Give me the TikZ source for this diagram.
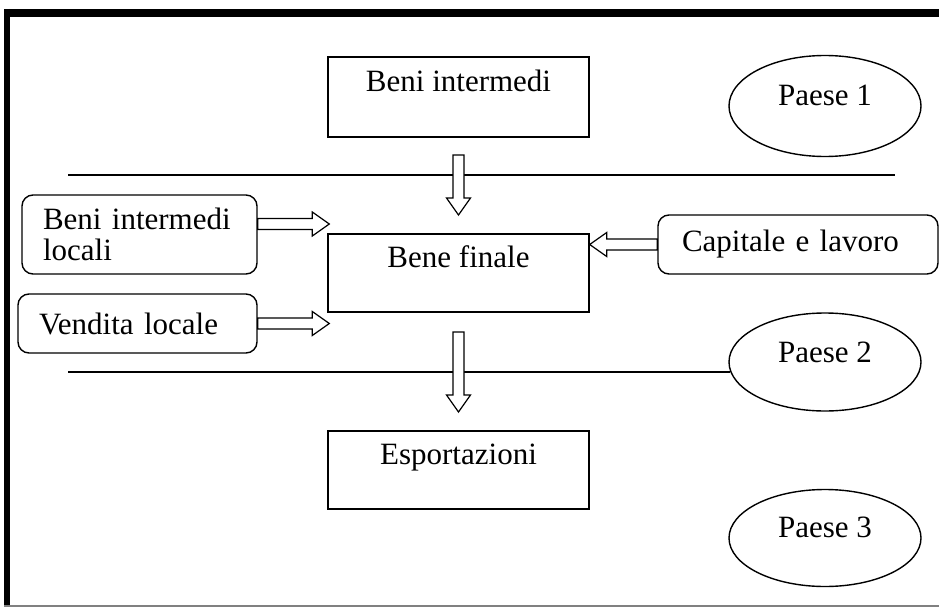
\documentclass[tikz,border=0pt]{standalone}
\usepackage{fontspec}
\setmainfont{Liberation Serif}
\usetikzlibrary{shapes.geometric,calc}
\tikzset{
  every node/.style={font=\fontsize{31}{31}\selectfont},
  rbox/.style={draw, line width=1.4pt, minimum width=261pt, minimum height=79pt, inner sep=0pt},
  roundbox/.style={draw, line width=1.4pt, rounded corners=11pt, align=left, inner xsep=21pt, inner ysep=0pt},
  country/.style={draw, ellipse, line width=1.4pt, minimum width=192pt, inner sep=0pt},
  sepline/.style={line width=1.4pt},
  harrow/.style={draw, line width=1.2pt, fill=white, line join=miter},
}
\newcommand{\hollowarrow}[2]{%
  \path ($(#2)!17pt!(#1)$) coordinate (hb);
  \draw[harrow] ($(#1)!5.5pt!90:(#2)$) -- ($(hb)!5.5pt!-90:(#1)$) -- ($(hb)!12pt!-90:(#1)$) -- (#2) -- ($(hb)!12pt!90:(#1)$) -- ($(hb)!5.5pt!90:(#1)$) -- ($(#1)!5.5pt!-90:(#2)$) -- cycle;
}
\begin{document}
\begin{tikzpicture}[x=1pt,y=-1pt]
\useasboundingbox (0,0) rectangle (939,607);
% frame
\draw[line width=8pt] (4,13) -- (939,13);
\draw[line width=6pt] (7,9) -- (7,607);
\draw[gray, line width=1.5pt] (4,606) -- (939,606);

% boxes
\node[rbox, minimum height=80pt, label={[anchor=base, yshift=-35pt]north:Beni intermedi}] (bi) at (458.5,97) {};
\node[rbox, minimum height=78pt, label={[anchor=base, yshift=-34pt]north:Bene finale}] (bf) at (458.5,273) {};
\node[rbox, minimum height=78pt, label={[anchor=base, yshift=-34pt]north:Esportazioni}] (ex) at (458.5,470) {};

\node[roundbox, text width=193pt, minimum height=79pt] (bil) at (139.5,234.5) {Beni intermedi\\locali};
\node[roundbox, text width=197pt, minimum height=59pt] (vl) at (137.5,323.5) {Vendita locale};
\node[roundbox, text width=232pt, inner xsep=24pt, minimum height=59pt] (cap) at (798,244.5) {Capitale e lavoro};

% countries
\node[country, minimum height=101pt, label={[yshift=11pt]center:Paese 1}] (p1) at (825,106) {};
\node[country, minimum height=98pt, label={[yshift=10pt]center:Paese 2}] (p2) at (825,362) {};
\node[country, minimum height=97pt, label={[yshift=11pt]center:Paese 3}] (p3) at (825,538) {};

% separator lines
\coordinate (l1s) at (68,175);
\coordinate (l1e) at (895,175);
\draw[sepline] (l1s) -- (l1e);
\draw[sepline] (p2.186 -| l1s) -- (p2.186);

% arrows
\coordinate (a1s) at (458.5,155);
\coordinate (a1e) at (458.5,215);
\coordinate (a2s) at (458.5,332);
\coordinate (a2e) at (458.5,412);
\coordinate (r1s) at ($(bil.east)+(0,-10.5)$);
\coordinate (r1e) at ($(r1s -| bf.west)+(2,0)$);
\coordinate (r2e) at ($(vl.east -| bf.west)+(2,0)$);
\coordinate (l3e) at (cap.west -| bf.east);
\hollowarrow{a1s}{a1e}
\hollowarrow{a2s}{a2e}
\hollowarrow{r1s}{r1e}
\hollowarrow{vl.east}{r2e}
\hollowarrow{cap.west}{l3e}
\end{tikzpicture}
\end{document}
